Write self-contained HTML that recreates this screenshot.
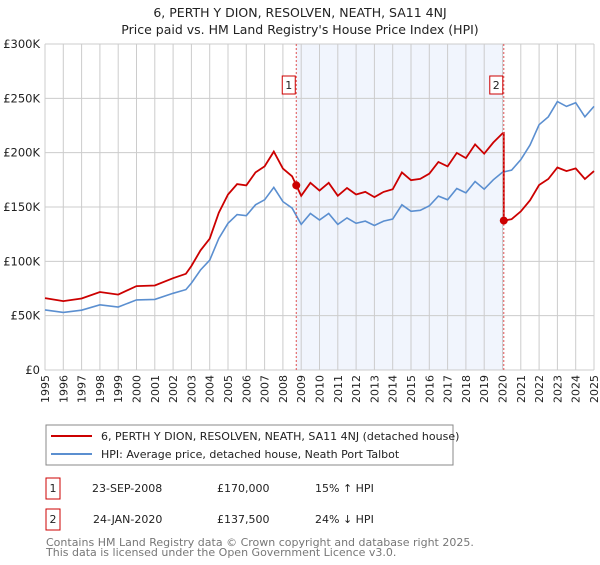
<!DOCTYPE html>
<html><head><meta charset="utf-8"><style>
body{margin:0;background:#fff;font-family:"Liberation Sans","DejaVu Sans",sans-serif;}
svg text{font-family:"DejaVu Sans","Liberation Sans",sans-serif;}
</style></head><body>
<svg id="chart" width="600" height="560" xmlns="http://www.w3.org/2000/svg">
<text x="300" y="17" text-anchor="middle" font-size="12.5" fill="#222">6, PERTH Y DION, RESOLVEN, NEATH, SA11 4NJ</text>
<text x="300" y="34" text-anchor="middle" font-size="12.5" fill="#222">Price paid vs. HM Land Registry's House Price Index (HPI)</text>
<g id="grid"></g>
<g id="series"></g>
<g id="axes"></g>
<g>
<rect x="46" y="425" width="407" height="40" fill="#fff" stroke="#888"/>
<line x1="51" y1="436" x2="92" y2="436" stroke="#cc0000" stroke-width="2"/>
<text x="101" y="440" font-size="11" fill="#222">6, PERTH Y DION, RESOLVEN, NEATH, SA11 4NJ (detached house)</text>
<line x1="51" y1="454" x2="92" y2="454" stroke="#5b8fd0" stroke-width="2"/>
<text x="101" y="458" font-size="11" fill="#222">HPI: Average price, detached house, Neath Port Talbot</text>
</g>
<g>
<rect x="46" y="478" width="14" height="21" fill="#fff" stroke="#cc0000"/>
<text x="53" y="492" text-anchor="middle" font-size="11" fill="#222">1</text>
<text x="92" y="492" font-size="11" fill="#222">23-SEP-2008</text>
<text x="217" y="492" font-size="11" fill="#222">£170,000</text>
<text x="315" y="492" font-size="11" fill="#222">15% ↑ HPI</text>
<rect x="46" y="509" width="14" height="21" fill="#fff" stroke="#cc0000"/>
<text x="53" y="523" text-anchor="middle" font-size="11" fill="#222">2</text>
<text x="93" y="523" font-size="11" fill="#222">24-JAN-2020</text>
<text x="217" y="523" font-size="11" fill="#222">£137,500</text>
<text x="315" y="523" font-size="11" fill="#222">24% ↓ HPI</text>
</g>
<text x="46" y="546" font-size="11" fill="#777">Contains HM Land Registry data © Crown copyright and database right 2025.</text>
<text x="46" y="556" font-size="11" fill="#777">This data is licensed under the Open Government Licence v3.0.</text>
</svg>
<script>
const hpiYears=[1995,1996,1997,1998,1999,2000,2001,2002,2002.7,2003,2003.5,2004,2004.5,2005,2005.5,2006,2006.5,2007,2007.5,2008,2008.5,2009,2009.5,2010,2010.5,2011,2011.5,2012,2012.5,2013,2013.5,2014,2014.5,2015,2015.5,2016,2016.5,2017,2017.5,2018,2018.5,2019,2019.5,2020,2020.5,2021,2021.5,2022,2022.5,2023,2023.5,2024,2024.5,2025];
const hpiValues=[55.3,53,55,60,58,64.5,65,70.6,74,80,92,101,121,135,143,142,152,156.6,168,155,149,134,144,138,144,134,140,135,137,133,137,139,152,146,147,151,160,156.6,167,163,173.5,166.4,175,182,184,193.5,207,225.7,233,247,242.6,246,233,242.6];
const saleYears=[2008.73,2020.07];
const salePrices=[170,137.5];
const saleLabels=["1","2"];
const yTicks=[0,50,100,150,200,250,300];
const yTickLabels=["£0","£50K","£100K","£150K","£200K","£250K","£300K"];
const xTicks=[1995,1996,1997,1998,1999,2000,2001,2002,2003,2004,2005,2006,2007,2008,2009,2010,2011,2012,2013,2014,2015,2016,2017,2018,2019,2020,2021,2022,2023,2024,2025];

const NS="http://www.w3.org/2000/svg";
const L=45,R=594,T=44,B=370;
const xs=y=>L+(y-1995)/(2025-1995)*(R-L);
const ys=v=>B-v/300*(B-T);
function mk(tag,attrs,parent){const e=document.createElementNS(NS,tag);for(const k in attrs)e.setAttribute(k,attrs[k]);parent.appendChild(e);return e;}
const grid=document.getElementById('grid'),ser=document.getElementById('series'),ax=document.getElementById('axes');
function hpiAt(t){for(let i=0;i<hpiYears.length-1;i++){if(t<=hpiYears[i+1]){const f=(t-hpiYears[i])/(hpiYears[i+1]-hpiYears[i]);return hpiValues[i]+f*(hpiValues[i+1]-hpiValues[i]);}}return hpiValues[hpiValues.length-1];}
const sh=mk('rect',{x:xs(saleYears[0]),y:T,width:xs(saleYears[1])-xs(saleYears[0]),height:B-T,fill:'#eef3fc',opacity:'0.8'},grid);


xTicks.forEach(t=>{const g=mk('line',{x1:xs(t),x2:xs(t),y1:T,y2:B,stroke:'#ccc'},grid);


const tx=mk('text',{x:0,y:0,'font-size':'11',fill:'#222','text-anchor':'end',transform:`translate(${xs(t)+4},${B+5}) rotate(-90)`},ax);tx.textContent=t;

});
yTicks.forEach((v,i)=>{const g=mk('line',{x1:L,x2:R,y1:ys(v),y2:ys(v),stroke:'#ccc'},grid);


const tx=mk('text',{x:L-5,y:ys(v)+4,'font-size':'11.5',fill:'#222','text-anchor':'end'},ax);tx.textContent=yTickLabels[i];

});
let d=hpiYears.map((y,i)=>(i?'L':'M')+xs(y).toFixed(1)+','+ys(hpiValues[i]).toFixed(1)).join('');
const hl=mk('path',{d:d,fill:'none',stroke:'#5b8fd0','stroke-width':'1.6'},ser);


const r0=salePrices[0]/hpiAt(saleYears[0]),r1=salePrices[1]/hpiAt(saleYears[1]);
let pts=[];hpiYears.forEach((y,i)=>{if(y<saleYears[1])pts.push([y,hpiValues[i]*r0]);});
pts.push([saleYears[1],hpiAt(saleYears[1])*r0]);pts.push([saleYears[1],salePrices[1]]);
hpiYears.forEach((y,i)=>{if(y>saleYears[1])pts.push([y,hpiValues[i]*r1]);});
d=pts.map((p,i)=>(i?'L':'M')+xs(p[0]).toFixed(1)+','+ys(p[1]).toFixed(1)).join('');
const pl=mk('path',{d:d,fill:'none',stroke:'#cc0000','stroke-width':'1.8'},ser);


saleYears.forEach((y,i)=>{
const vl=mk('line',{x1:xs(y),x2:xs(y),y1:T,y2:B,stroke:'#e05050','stroke-dasharray':'2,2','stroke-width':'1'},ser);


const c=mk('circle',{cx:xs(y),cy:ys(salePrices[i]),r:4,fill:'#cc0000'},ser);


const b=mk('rect',{x:xs(y)-14,y:76,width:13,height:18,fill:'#fff',stroke:'#cc0000'},ser);


const t=mk('text',{x:xs(y)-7.5,y:89,'font-size':'11','text-anchor':'middle',fill:'#222'},ser);t.textContent=saleLabels[i];

});
</script>
</body></html>
